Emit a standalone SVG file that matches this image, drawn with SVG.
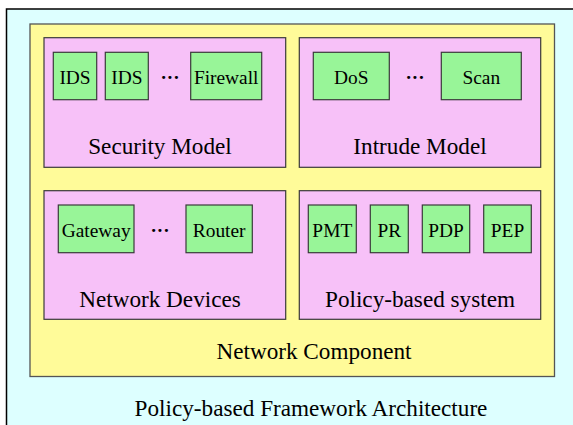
<svg xmlns="http://www.w3.org/2000/svg" width="573" height="425" viewBox="0 0 573 425" font-family="Liberation Serif, serif">
<style>
text{font-family:"Liberation Serif","Times New Roman",serif;fill:#000;text-anchor:middle}
.big{font-size:23.2px}
.sm{font-size:19.4px}
.green{fill:#98f598;stroke:#3a3a3a;stroke-width:1.2}
.pink{fill:#f7c1f8;stroke:#3a3a3a;stroke-width:1.2}
.dots{font-size:19px;font-weight:bold}
</style>
<rect x="0" y="0" width="573" height="425" fill="#ffffff"/>
<g id="framework">
<rect x="6.5" y="9" width="580" height="430" fill="#ddffff" stroke="#000" stroke-width="1.5"/>
<text class="big" x="311" y="416" font-family="Liberation Serif">Policy-based Framework Architecture</text>
</g>
<g id="network-component">
<rect x="30" y="24" width="524.5" height="352.5" fill="#fffb99" stroke="#555" stroke-width="1.3"/>
<text class="big" x="314" y="359" font-family="Liberation Serif">Network Component</text>
</g>
<g id="security-model">
<rect class="pink" x="44" y="37.7" width="241.7" height="129.6"/>
<text class="big" x="160" y="154" font-family="Liberation Serif">Security Model</text>
<g id="ids1"><rect class="green" x="53.3" y="52.3" width="43.4" height="47.4"/><text class="sm" x="75" y="84" font-family="Liberation Serif">IDS</text></g>
<g id="ids2"><rect class="green" x="105.3" y="52.3" width="43" height="47.4"/><text class="sm" x="126.8" y="84" font-family="Liberation Serif">IDS</text></g>
<text class="dots" x="170" y="84" font-family="Liberation Serif">···</text>
<g id="firewall"><rect class="green" x="190.7" y="52.3" width="71" height="47.4"/><text class="sm" x="226.2" y="84" font-family="Liberation Serif">Firewall</text></g>
</g>
<g id="intrude-model">
<rect class="pink" x="299.3" y="37.7" width="241.4" height="129.6"/>
<text class="big" x="420" y="154" font-family="Liberation Serif">Intrude Model</text>
<g id="dos"><rect class="green" x="313.3" y="52.3" width="76" height="47.4"/><text class="sm" x="351.3" y="84" font-family="Liberation Serif">DoS</text></g>
<text class="dots" x="415" y="84" font-family="Liberation Serif">···</text>
<g id="scan"><rect class="green" x="441.3" y="52.3" width="80" height="47.4"/><text class="sm" x="481.3" y="84" font-family="Liberation Serif">Scan</text></g>
</g>
<g id="network-devices">
<rect class="pink" x="44" y="190.7" width="241.7" height="128.6"/>
<text class="big" x="160" y="306.5" font-family="Liberation Serif">Network Devices</text>
<g id="gateway"><rect class="green" x="58.3" y="205" width="75.7" height="47.7"/><text class="sm" x="96.2" y="237" font-family="Liberation Serif">Gateway</text></g>
<text class="dots" x="160" y="237" font-family="Liberation Serif">···</text>
<g id="router"><rect class="green" x="186" y="205" width="66.3" height="47.7"/><text class="sm" x="219.2" y="237" font-family="Liberation Serif">Router</text></g>
</g>
<g id="policy-system">
<rect class="pink" x="299.3" y="190.7" width="241.4" height="128.6"/>
<text class="big" x="420" y="306.5" font-family="Liberation Serif">Policy-based system</text>
<g id="pmt"><rect class="green" x="308.3" y="205" width="48" height="47.7"/><text class="sm" x="332.3" y="237" font-family="Liberation Serif">PMT</text></g>
<g id="pr"><rect class="green" x="370.3" y="205" width="38" height="47.7"/><text class="sm" x="389.3" y="237" font-family="Liberation Serif">PR</text></g>
<g id="pdp"><rect class="green" x="422.3" y="205" width="47.4" height="47.7"/><text class="sm" x="446" y="237" font-family="Liberation Serif">PDP</text></g>
<g id="pep"><rect class="green" x="483.7" y="205" width="47.6" height="47.7"/><text class="sm" x="507.5" y="237" font-family="Liberation Serif">PEP</text></g>
</g>
<g id="connectors"/>
</svg>
